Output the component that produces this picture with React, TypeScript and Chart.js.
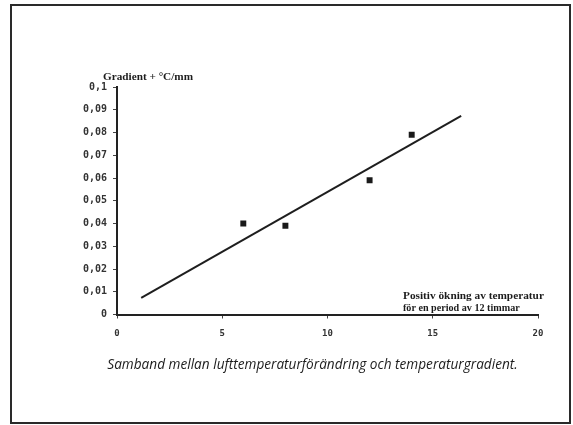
import React, { useEffect, useRef } from 'react';
import { Chart, registerables } from 'chart.js';

Chart.register(...registerables);

// ---- data ----
const xValues = [6, 8, 12, 14];
const yValues = [0.04, 0.039, 0.059, 0.079];
const trendX = [1.15, 16.35];
const trendY = [0.0073, 0.0873];
const xTickLabels = ['0', '5', '10', '15', '20'];
const yTickLabels = ['0', '0,01', '0,02', '0,03', '0,04', '0,05', '0,06', '0,07', '0,08', '0,09', '0,1'];
const yTitle = 'Gradient + °C/mm';
const xTitleLines = ['Positiv ökning av temperatur', 'för en period av 12 timmar'];
const caption = 'Samband mellan lufttemperaturförändring och temperaturgradient.';

function fitText(
  ctx: CanvasRenderingContext2D,
  text: string,
  x: number,
  y: number,
  targetWidth: number,
  style: string,
  family: string,
  base: number,
  align: CanvasTextAlign = 'left'
) {
  ctx.font = `${style} ${base}px ${family}`;
  const w = ctx.measureText(text).width;
  const size = Math.max(6, Math.min(base * 1.6, (base * targetWidth) / w));
  ctx.font = `${style} ${size.toFixed(2)}px ${family}`;
  ctx.textAlign = align;
  ctx.fillText(text, x, y);
}

const textPlugin = {
  id: 'extraTexts',
  afterDraw(chart: any) {
    const ctx: CanvasRenderingContext2D = chart.ctx;
    const { left, right, top, bottom } = chart.chartArea;
    ctx.save();
    ctx.fillStyle = '#1c1c1c';
    ctx.textBaseline = 'alphabetic';
    fitText(ctx, yTitle, left - 14, top - 7, 90, 'bold', '"Liberation Serif"', 10);
    fitText(ctx, xTitleLines[0], right - 135, bottom - 15.5, 141, 'bold', '"Liberation Serif"', 10);
    fitText(ctx, xTitleLines[1], right - 135, bottom - 3.5, 117, 'bold', '"Liberation Serif"', 10);
    fitText(ctx, caption, (left + right) / 2 - 15, bottom + 54.5, 411, 'italic', '"Open Sans"', 13, 'center');
    ctx.restore();
  },
};

export default function App() {
  const ref = useRef<HTMLCanvasElement>(null);

  useEffect(() => {
    if (!ref.current) return;
    const chart = new Chart(ref.current, {
      type: 'scatter',
      data: {
        datasets: [
          {
            label: 'mätpunkter',
            data: xValues.map((x, i) => ({ x, y: yValues[i] })),
            pointStyle: 'rect',
            pointRadius: 4.2,
            backgroundColor: '#1a1a1a',
            borderColor: '#1a1a1a',
            borderWidth: 0,
          },
          {
            label: 'trend',
            data: trendX.map((x, i) => ({ x, y: trendY[i] })),
            showLine: true,
            pointRadius: 0,
            borderColor: '#1e1e1e',
            borderWidth: 2,
            fill: false,
          },
        ],
      },
      options: {
        responsive: false,
        animation: false,
        layout: { padding: { left: 67, right: 35, top: 87, bottom: 80.5 } },
        plugins: {
          legend: { display: false },
          tooltip: { enabled: false },
        },
        scales: {
          x: {
            type: 'linear',
            min: 0,
            max: 20,
            afterFit: (s: any) => {
              s.height = 30;
            },
            ticks: {
              stepSize: 5,
              padding: 10,
              color: '#333',
              font: { family: '"DejaVu Sans Mono"', size: 9, weight: 'bold' },
              callback: (_v: any, i: number) => xTickLabels[i],
              maxRotation: 0,
            },
            grid: { drawOnChartArea: false, tickLength: 4, color: '#444', lineWidth: 1 },
            border: { color: '#222', width: 2 },
          },
          y: {
            type: 'linear',
            min: 0,
            max: 0.1,
            afterFit: (s: any) => {
              s.width = 50;
            },
            ticks: {
              stepSize: 0.01,
              padding: 6,
              color: '#333',
              font: { family: '"DejaVu Sans Mono"', size: 10, weight: 'bold' },
              callback: (_v: any, i: number) => yTickLabels[i],
            },
            grid: { drawOnChartArea: false, tickLength: 4, color: '#444', lineWidth: 1 },
            border: { color: '#222', width: 2 },
          },
        },
      },
      plugins: [textPlugin],
    });
    return () => chart.destroy();
  }, []);

  return (
    <div style={{ position: 'absolute', left: 0, top: 0, width: 573, height: 425, background: '#fff' }}>
      <canvas ref={ref} width={573} height={425} style={{ position: 'absolute', left: 0, top: 0, display: 'block' }} />
      <div
        style={{
          position: 'absolute',
          left: 10,
          top: 4,
          width: 561,
          height: 420,
          boxSizing: 'border-box',
          border: '2px solid #2a2a2a',
          pointerEvents: 'none',
        }}
      />
    </div>
  );
}
